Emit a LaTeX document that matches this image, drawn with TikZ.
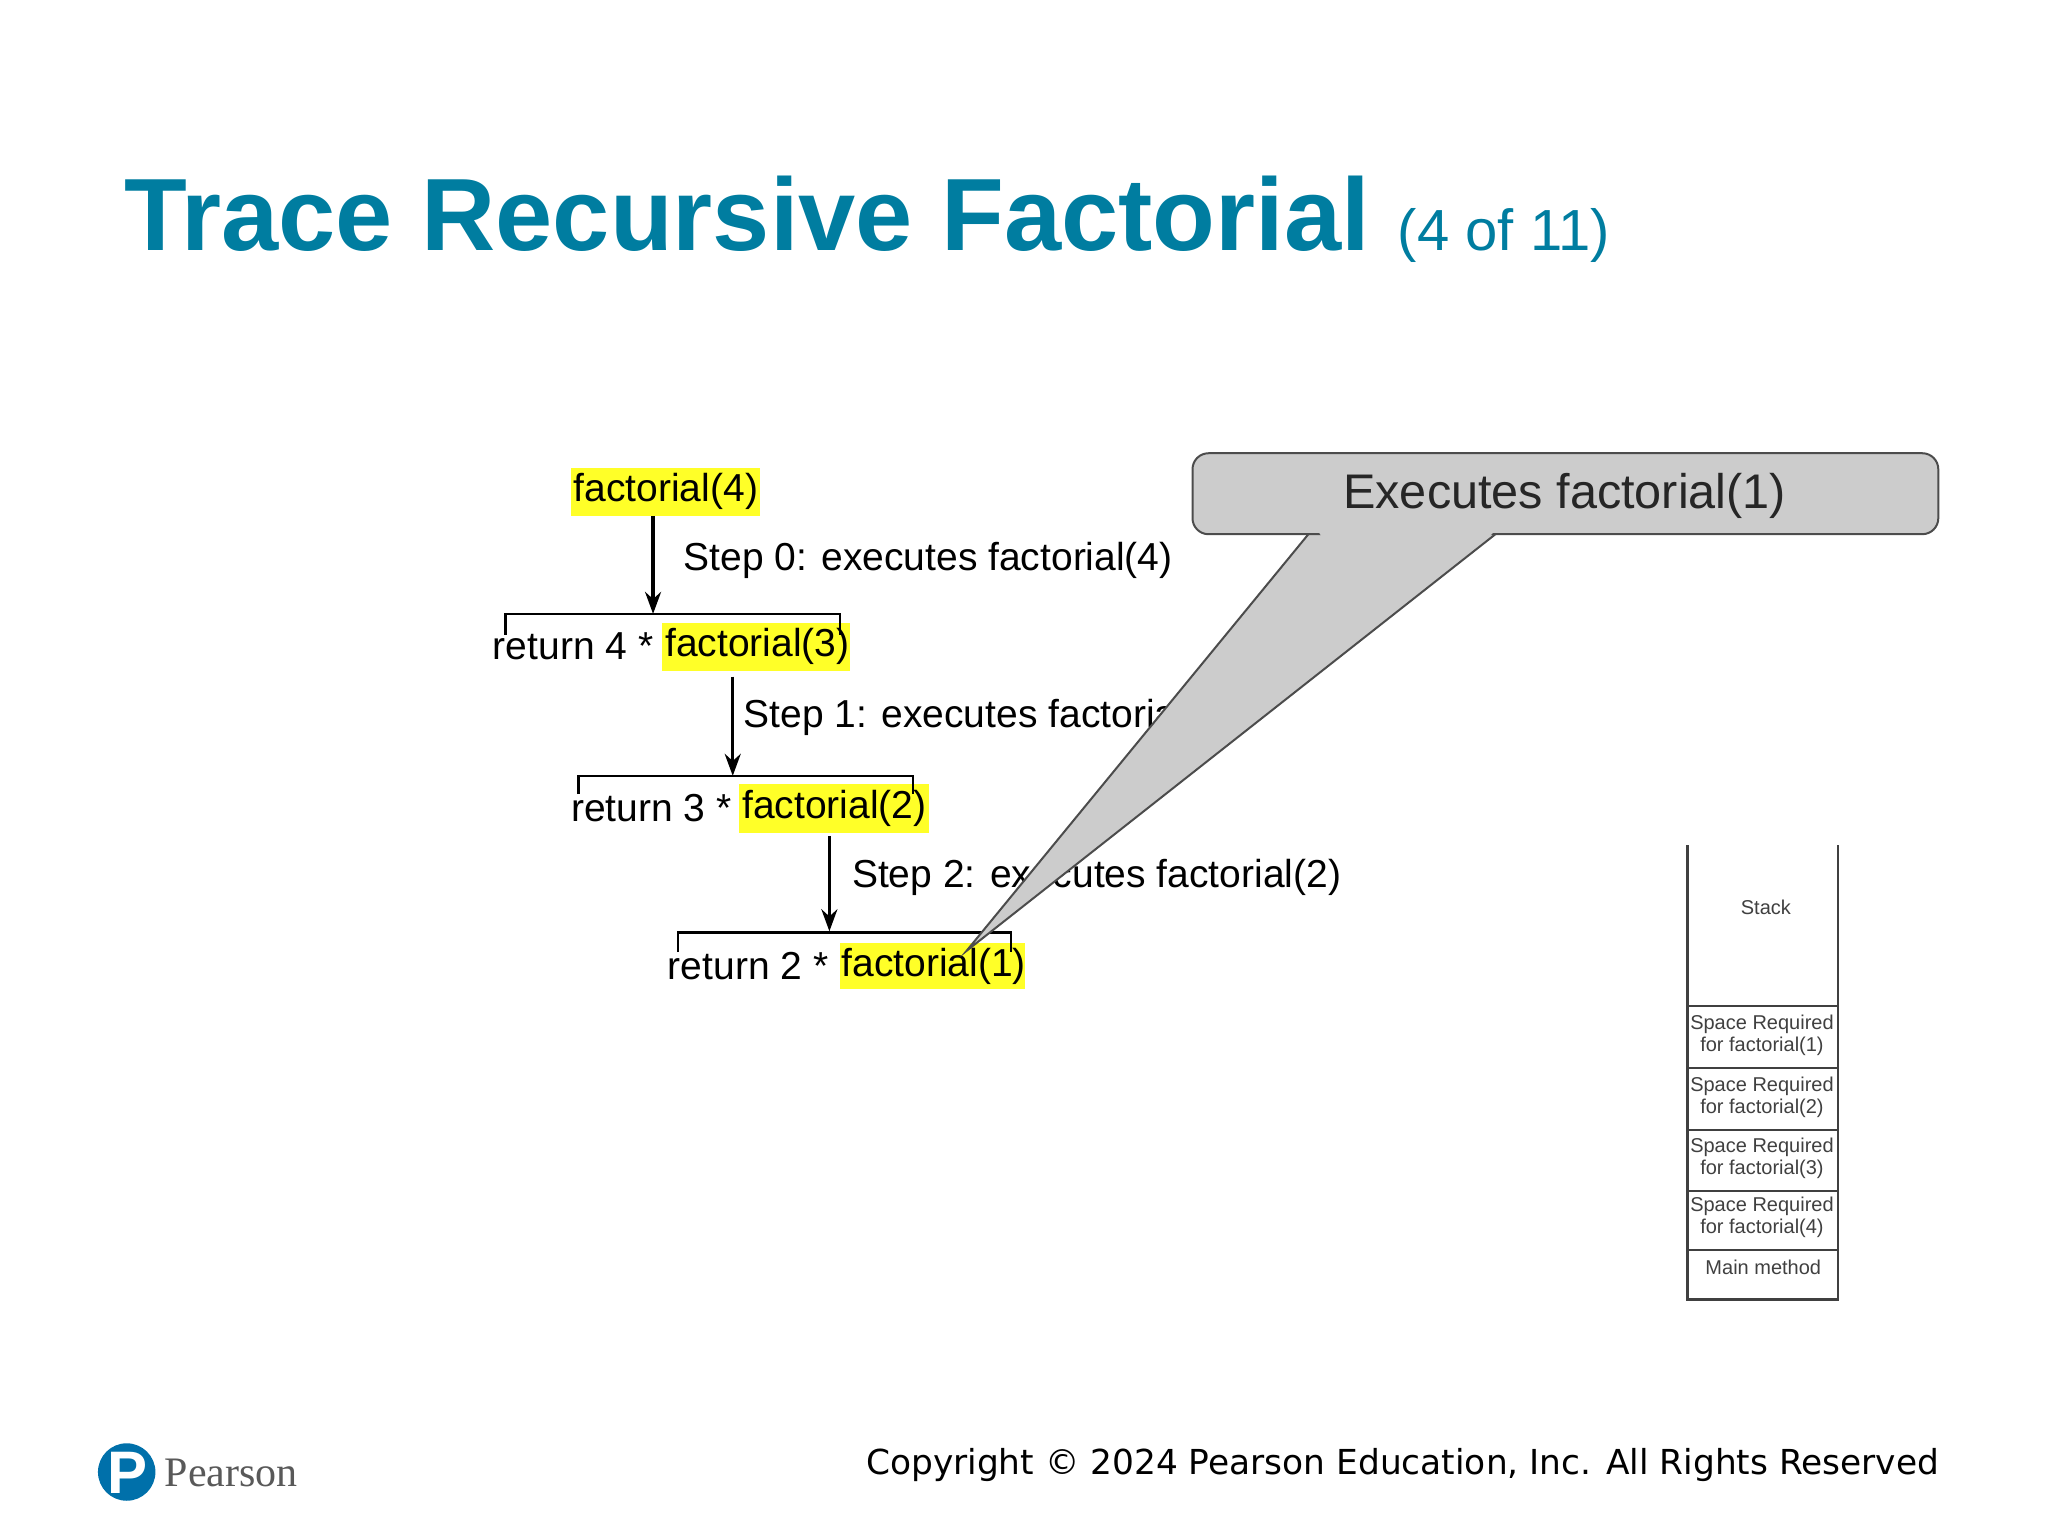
\documentclass[tikz,border=0pt]{standalone}
\usepackage{fontspec}
\setmainfont{Liberation Sans}
\newfontfamily\dejavu{DejaVu Sans}
\newfontfamily\serifp{Liberation Serif}
\usetikzlibrary{arrows.meta}
\definecolor{teal}{RGB}{0,125,160}
\definecolor{hl}{RGB}{255,255,40}
\definecolor{callgray}{RGB}{204,204,204}
\begin{document}
\begin{tikzpicture}[x=0.65306pt,y=-0.65306pt,
  code/.style={font=\fontsize{19.5}{21}\selectfont,inner sep=0pt,anchor=west},
  arr/.style={-{Stealth[length=11pt,width=8pt]},line width=1.6pt},
  brk/.style={line width=1.3pt},
  stk/.style={font=\fontsize{10}{11}\selectfont,align=center,inner sep=0pt,text=black!75}]
\useasboundingbox (0,0) rectangle (1568,1176);
% title
\node[anchor=base west,inner sep=0pt,text=teal,font=\fontsize{51.4}{56}\selectfont\bfseries] (title) at (95,192) {Trace Recursive Factorial};
\node[anchor=base west,inner sep=0pt,text=teal,font=\fontsize{29}{32}\selectfont] (sub) at (1070,192) {(4 of 11)};
% highlights
\fill[hl] (437,358) rectangle (582,395);
\fill[hl] (507,477) rectangle (651,514);
\fill[hl] (566,600) rectangle (711,638);
\fill[hl] (643,722) rectangle (785,757);
% lines
\node[code] (f4) at (439,376) {factorial(4)};
\node[code] (r4) at (377,495) {return 4 *};
\node[code] (f3) at (509,495) {factorial(3)};
\node[code] (r3) at (437,619) {return 3 *};
\node[code] (f2) at (568,619) {factorial(2)};
\node[code] (r2) at (511,740) {return 2 *};
\node[code] (f1) at (644,740) {factorial(1)};
\node[code] (s0) at (523,429) {Step 0: executes factorial(4)};
\node[code] (s1) at (569,549) {Step 1: executes factorial(3)};
\node[code] (s2) at (652,672) {Step 2: executes factorial(2)};
\coordinate (a0) at (500,395); \coordinate (b0) at (500,470);
\coordinate (a1) at (561,518); \coordinate (b1) at (561,594);
\coordinate (a2) at (635,640); \coordinate (b2) at (635,713);
\draw[arr] (a0) -- (b0);
\draw[arr] (a1) -- (b1);
\draw[arr] (a2) -- (b2);
\draw[brk] (387,486) -- (387,470) -- (643,470) -- (643,486);
\draw[brk] (443,608) -- (443,594) -- (699,594) -- (699,608);
\draw[brk] (519,729) -- (519,714) -- (774,714) -- (774,729);
% callout
\draw[draw=black!70,fill=callgray,line width=1pt] (1005,405) -- (740,728) -- (1150,405);
\draw[draw=black!70,fill=callgray,line width=1pt,rounded corners=8pt] (913,347) rectangle (1484,409);
\fill[callgray] (1006,402) -- (1149,402) -- (1140,411) -- (1012,411) -- cycle;
\node[font=\fontsize{24.3}{27}\selectfont,text=black!85] (call) at (1198,380) {Executes factorial(1)};
% stack
\draw[line width=1.2pt,draw=black!75] (1292,647) -- (1292,995) -- (1407,995) -- (1407,647);
\foreach \y in {770,818,865,912,957} \draw[line width=1pt,draw=black!75] (1292,\y) -- (1407,\y);
\node[stk] (st) at (1352,695) {Stack};
\node[stk] (k1) at (1349,793) {Space Required\\for factorial(1)};
\node[stk] (k2) at (1349,840) {Space Required\\for factorial(2)};
\node[stk] (k3) at (1349,887) {Space Required\\for factorial(3)};
\node[stk] (k4) at (1349,932) {Space Required\\for factorial(4)};
\node[stk] (km) at (1350,970) {Main method};
% footer
\fill[teal!90!blue] (97,1127) circle (22);
\node[text=white,font=\fontsize{30}{30}\selectfont\bfseries] (plogo) at (98,1128) {P};
\node[anchor=west,inner sep=0pt,text=black!65,font=\serifp\fontsize{21}{24}\selectfont] (pearson) at (126,1128) {Pearson};
\node[anchor=base east,inner sep=0pt,font=\dejavu\fontsize{17.2}{20}\selectfont] (copy) at (1485,1129) {Copyright © 2024 Pearson Education, Inc. All Rights Reserved};
\end{tikzpicture}
\end{document}
